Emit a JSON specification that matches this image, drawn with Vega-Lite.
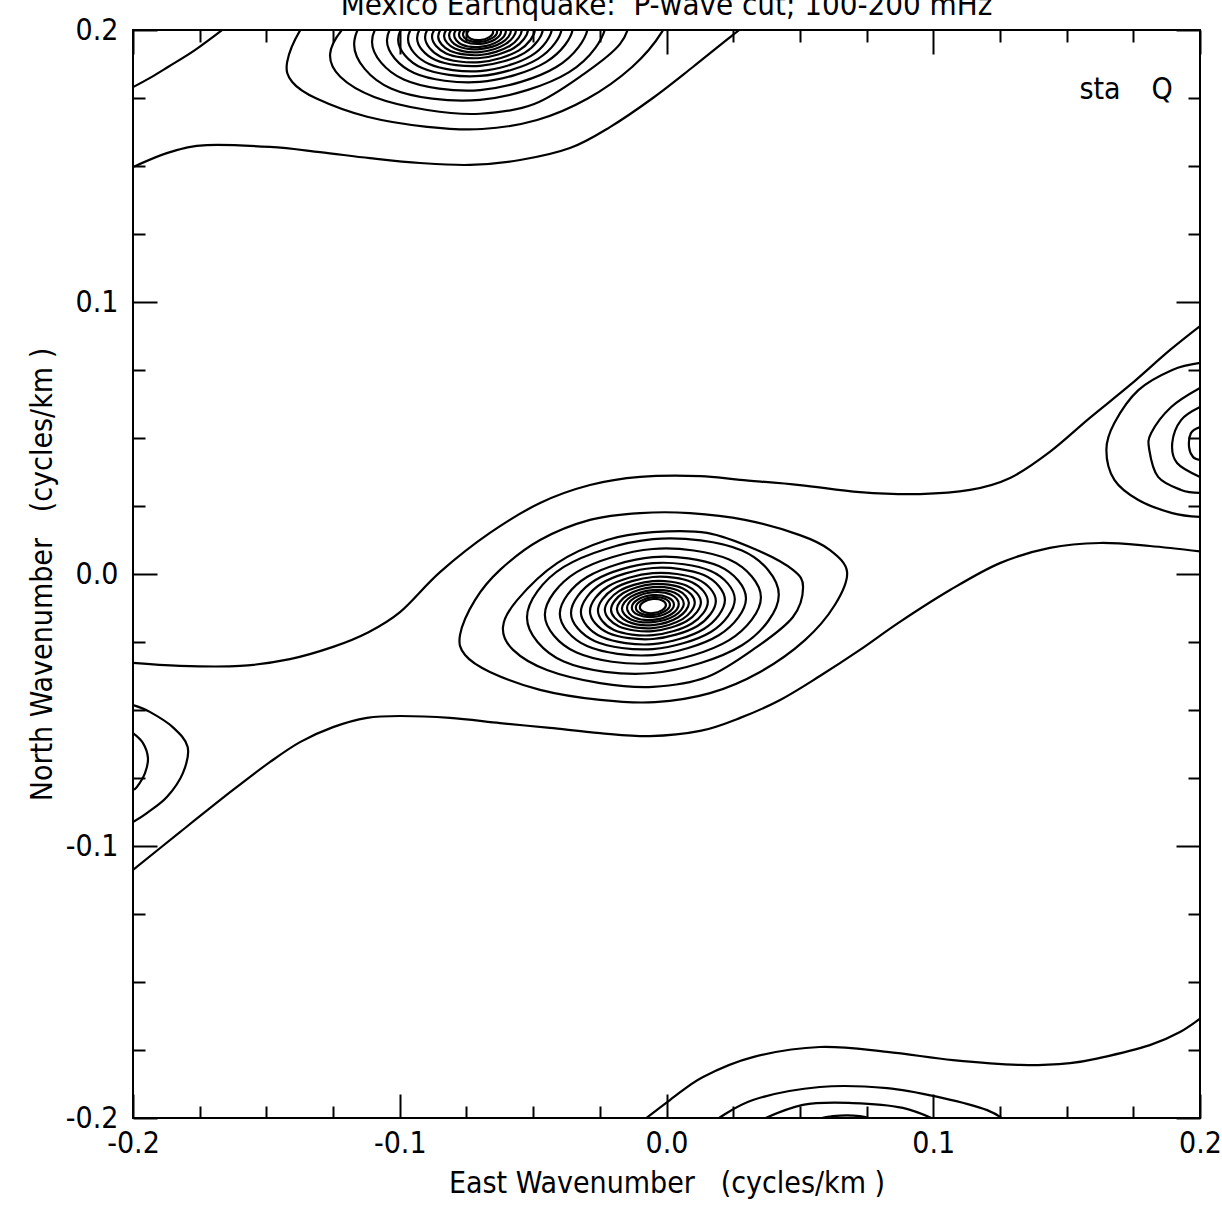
{
  "$schema": "https://vega.github.io/schema/vega-lite/v6.json",
  "width": 1067,
  "height": 1088,
  "autosize": {"type": "none"},
  "padding": {"left": 133, "top": 30, "right": 22, "bottom": 96},
  "background": "white",
  "config": {
    "view": {"stroke": "black", "strokeWidth": 2},
    "font": "Liberation Sans Narrow, DejaVu Sans Condensed, sans-serif"
  },
  "title": {
    "text": "Mexico Earthquake:\u00a0\u00a0P-wave cut; 100-200 mHz",
    "fontSize": 31,
    "fontWeight": "normal",
    "color": "black",
    "anchor": "middle",
    "baseline": "alphabetic",
    "offset": 15,
    "dy": 46
  },
  "datasets": {
    "curves": [
      {"c":"U","i":0,"x":-0.2,"y":-0.0327},{"c":"U","i":1,"x":-0.1824,"y":-0.0338},{"c":"U","i":2,"x":-0.1599,"y":-0.0338},{"c":"U","i":3,"x":-0.1412,"y":-0.0313},{"c":"U","i":4,"x":-0.125,"y":-0.0268},{"c":"U","i":5,"x":-0.1123,"y":-0.0217},{"c":"U","i":6,"x":-0.0999,"y":-0.014},{"c":"U","i":7,"x":-0.0849,"y":0.0007},{"c":"U","i":8,"x":-0.0662,"y":0.0151},{"c":"U","i":9,"x":-0.0474,"y":0.0261},{"c":"U","i":10,"x":-0.0287,"y":0.0327},{"c":"U","i":11,"x":-0.0099,"y":0.0357},{"c":"U","i":12,"x":0.0126,"y":0.036},{"c":"U","i":13,"x":0.0276,"y":0.0346},{"c":"U","i":14,"x":0.05,"y":0.0327},{"c":"U","i":15,"x":0.0725,"y":0.0301},{"c":"U","i":16,"x":0.095,"y":0.0294},{"c":"U","i":17,"x":0.1138,"y":0.0309},{"c":"U","i":18,"x":0.1288,"y":0.0353},{"c":"U","i":19,"x":0.1437,"y":0.0449},{"c":"U","i":20,"x":0.1587,"y":0.0574},{"c":"U","i":21,"x":0.1738,"y":0.0695},{"c":"U","i":22,"x":0.1888,"y":0.0824},{"c":"U","i":23,"x":0.2019,"y":0.0926},
      {"c":"D","i":0,"x":-0.2,"y":-0.1088},{"c":"D","i":1,"x":-0.1824,"y":-0.0949},{"c":"D","i":2,"x":-0.1625,"y":-0.0794},{"c":"D","i":3,"x":-0.1486,"y":-0.0691},{"c":"D","i":4,"x":-0.1374,"y":-0.0618},{"c":"D","i":5,"x":-0.125,"y":-0.0563},{"c":"D","i":6,"x":-0.1123,"y":-0.0529},{"c":"D","i":7,"x":-0.0999,"y":-0.0522},{"c":"D","i":8,"x":-0.0812,"y":-0.0529},{"c":"D","i":9,"x":-0.0624,"y":-0.0548},{"c":"D","i":10,"x":-0.0437,"y":-0.0566},{"c":"D","i":11,"x":-0.0249,"y":-0.0585},{"c":"D","i":12,"x":-0.0062,"y":-0.0596},{"c":"D","i":13,"x":0.0126,"y":-0.0577},{"c":"D","i":14,"x":0.0276,"y":-0.0529},{"c":"D","i":15,"x":0.0426,"y":-0.0463},{"c":"D","i":16,"x":0.0575,"y":-0.0375},{"c":"D","i":17,"x":0.0725,"y":-0.0279},{"c":"D","i":18,"x":0.0875,"y":-0.0176},{"c":"D","i":19,"x":0.1063,"y":-0.0059},{"c":"D","i":20,"x":0.125,"y":0.004},{"c":"D","i":21,"x":0.1437,"y":0.0096},{"c":"D","i":22,"x":0.1625,"y":0.0114},{"c":"D","i":23,"x":0.1812,"y":0.0103},{"c":"D","i":24,"x":0.2019,"y":0.0081},
      {"c":"T0","i":0,"x":-0.2,"y":0.179},{"c":"T0","i":1,"x":-0.1936,"y":0.1824},{"c":"T0","i":2,"x":-0.1869,"y":0.1864},{"c":"T0","i":3,"x":-0.1768,"y":0.1926},{"c":"T0","i":4,"x":-0.1651,"y":0.2011},
      {"c":"T1","i":0,"x":-0.2,"y":0.1496},{"c":"T1","i":1,"x":-0.1861,"y":0.1551},{"c":"T1","i":2,"x":-0.1723,"y":0.1577},{"c":"T1","i":3,"x":-0.1486,"y":0.157},{"c":"T1","i":4,"x":-0.1299,"y":0.1551},{"c":"T1","i":5,"x":-0.1112,"y":0.1529},{"c":"T1","i":6,"x":-0.0924,"y":0.1511},{"c":"T1","i":7,"x":-0.0737,"y":0.1504},{"c":"T1","i":8,"x":-0.0549,"y":0.1522},{"c":"T1","i":9,"x":-0.0362,"y":0.1566},{"c":"T1","i":10,"x":-0.0212,"y":0.1643},{"c":"T1","i":11,"x":-0.0051,"y":0.175},{"c":"T1","i":12,"x":0.0099,"y":0.1864},{"c":"T1","i":13,"x":0.0249,"y":0.1982},{"c":"T1","i":14,"x":0.0294,"y":0.2015},
      {"c":"La","i":0,"x":-0.2,"y":-0.0482},{"c":"La","i":1,"x":-0.1937,"y":-0.0507},{"c":"La","i":2,"x":-0.1851,"y":-0.0563},{"c":"La","i":3,"x":-0.1795,"y":-0.0636},{"c":"La","i":4,"x":-0.1813,"y":-0.0732},{"c":"La","i":5,"x":-0.1873,"y":-0.082},{"c":"La","i":6,"x":-0.1948,"y":-0.0879},{"c":"La","i":7,"x":-0.2,"y":-0.0912},
      {"c":"Lb","i":0,"x":-0.2,"y":-0.0585},{"c":"Lb","i":1,"x":-0.1963,"y":-0.0621},{"c":"Lb","i":2,"x":-0.1944,"y":-0.0676},{"c":"Lb","i":3,"x":-0.1955,"y":-0.0732},{"c":"Lb","i":4,"x":-0.1985,"y":-0.0783},{"c":"Lb","i":5,"x":-0.2,"y":-0.0794},
      {"c":"Ra","i":0,"x":0.2,"y":0.0776},{"c":"Ra","i":1,"x":0.1896,"y":0.075},{"c":"Ra","i":2,"x":0.1769,"y":0.0676},{"c":"Ra","i":3,"x":0.1679,"y":0.0555},{"c":"Ra","i":4,"x":0.1649,"y":0.0456},{"c":"Ra","i":5,"x":0.1679,"y":0.0346},{"c":"Ra","i":6,"x":0.1769,"y":0.0272},{"c":"Ra","i":7,"x":0.1896,"y":0.0224},{"c":"Ra","i":8,"x":0.2,"y":0.021},
      {"c":"Rb","i":0,"x":0.2,"y":0.0684},{"c":"Rb","i":1,"x":0.1892,"y":0.0614},{"c":"Rb","i":2,"x":0.1817,"y":0.0518},{"c":"Rb","i":3,"x":0.181,"y":0.0456},{"c":"Rb","i":4,"x":0.1843,"y":0.0357},{"c":"Rb","i":5,"x":0.1929,"y":0.0309},{"c":"Rb","i":6,"x":0.2,"y":0.0298},
      {"c":"Rc","i":0,"x":0.2,"y":0.0614},{"c":"Rc","i":1,"x":0.1929,"y":0.0566},{"c":"Rc","i":2,"x":0.1896,"y":0.0482},{"c":"Rc","i":3,"x":0.1914,"y":0.0408},{"c":"Rc","i":4,"x":0.2,"y":0.0357},
      {"c":"Rd","i":0,"x":0.2,"y":0.054},{"c":"Rd","i":1,"x":0.1966,"y":0.0518},{"c":"Rd","i":2,"x":0.1959,"y":0.0467},{"c":"Rd","i":3,"x":0.1974,"y":0.043},{"c":"Rd","i":4,"x":0.2,"y":0.0419},
      {"c":"B0","i":0,"x":-0.0099,"y":-0.2018},{"c":"B0","i":1,"x":0.0013,"y":-0.1934},{"c":"B0","i":2,"x":0.0137,"y":-0.1849},{"c":"B0","i":3,"x":0.0324,"y":-0.1776},{"c":"B0","i":4,"x":0.0575,"y":-0.1739},{"c":"B0","i":5,"x":0.0827,"y":-0.1757},{"c":"B0","i":6,"x":0.1074,"y":-0.1787},{"c":"B0","i":7,"x":0.1325,"y":-0.1805},{"c":"B0","i":8,"x":0.1513,"y":-0.1798},{"c":"B0","i":9,"x":0.1625,"y":-0.1779},{"c":"B0","i":10,"x":0.1812,"y":-0.1732},{"c":"B0","i":11,"x":0.1925,"y":-0.1684},{"c":"B0","i":12,"x":0.2019,"y":-0.1621},
      {"c":"B1","i":0,"x":0.017,"y":-0.2018},{"c":"B1","i":1,"x":0.0324,"y":-0.1934},{"c":"B1","i":2,"x":0.0575,"y":-0.1886},{"c":"B1","i":3,"x":0.0827,"y":-0.189},{"c":"B1","i":4,"x":0.1033,"y":-0.1926},{"c":"B1","i":5,"x":0.1202,"y":-0.1971},{"c":"B1","i":6,"x":0.128,"y":-0.2018},
      {"c":"B2","i":0,"x":0.0331,"y":-0.2018},{"c":"B2","i":1,"x":0.0511,"y":-0.1952},{"c":"B2","i":2,"x":0.0699,"y":-0.1945},{"c":"B2","i":3,"x":0.0886,"y":-0.1963},{"c":"B2","i":4,"x":0.1033,"y":-0.2018},
      {"c":"B3","i":0,"x":0.0519,"y":-0.2015},{"c":"B3","i":1,"x":0.0624,"y":-0.1993},{"c":"B3","i":2,"x":0.0725,"y":-0.1993},{"c":"B3","i":3,"x":0.08,"y":-0.2015}
    ],
    "rings": [
      {"c":"c1","i":0,"x":0.0677,"y":0.0007},{"c":"c1","i":1,"x":0.0613,"y":0.0088},{"c":"c1","i":2,"x":0.05,"y":0.0143},{"c":"c1","i":3,"x":0.0294,"y":0.0199},{"c":"c1","i":4,"x":0.0088,"y":0.0224},{"c":"c1","i":5,"x":-0.0099,"y":0.0224},{"c":"c1","i":6,"x":-0.0287,"y":0.0199},{"c":"c1","i":7,"x":-0.0474,"y":0.0125},{"c":"c1","i":8,"x":-0.0624,"y":0.0015},{"c":"c1","i":9,"x":-0.0718,"y":-0.0096},{"c":"c1","i":10,"x":-0.0774,"y":-0.0224},{"c":"c1","i":11,"x":-0.0755,"y":-0.0298},{"c":"c1","i":12,"x":-0.0662,"y":-0.036},{"c":"c1","i":13,"x":-0.0474,"y":-0.0426},{"c":"c1","i":14,"x":-0.0249,"y":-0.0463},{"c":"c1","i":15,"x":-0.0043,"y":-0.0471},{"c":"c1","i":16,"x":0.0163,"y":-0.0438},{"c":"c1","i":17,"x":0.0351,"y":-0.036},{"c":"c1","i":18,"x":0.0519,"y":-0.0243},{"c":"c1","i":19,"x":0.0631,"y":-0.0114},
      {"c":"c2","i":0,"x":0.0512,"y":-0.0048},{"c":"c2","i":1,"x":0.0474,"y":0.0015},{"c":"c2","i":2,"x":0.0339,"y":0.0088},{"c":"c2","i":3,"x":0.0152,"y":0.0151},{"c":"c2","i":4,"x":-0.0051,"y":0.0154},{"c":"c2","i":5,"x":-0.0223,"y":0.0125},{"c":"c2","i":6,"x":-0.041,"y":0.004},{"c":"c2","i":7,"x":-0.056,"y":-0.0096},{"c":"c2","i":8,"x":-0.0613,"y":-0.0195},{"c":"c2","i":9,"x":-0.0575,"y":-0.0279},{"c":"c2","i":10,"x":-0.0448,"y":-0.0353},{"c":"c2","i":11,"x":-0.0249,"y":-0.0401},{"c":"c2","i":12,"x":-0.0051,"y":-0.0415},{"c":"c2","i":13,"x":0.0152,"y":-0.0379},{"c":"c2","i":14,"x":0.0339,"y":-0.0268},{"c":"c2","i":15,"x":0.0474,"y":-0.0158},
      {"c":"c3","i":0,"x":0.0421,"y":-0.0076},{"c":"c3","i":1,"x":0.0283,"y":0.0086},{"c":"c3","i":2,"x":-0.0051,"y":0.0128},{"c":"c3","i":3,"x":-0.0385,"y":0.0026},{"c":"c3","i":4,"x":-0.0523,"y":-0.016},{"c":"c3","i":5,"x":-0.0385,"y":-0.0322},{"c":"c3","i":6,"x":-0.0051,"y":-0.0364},{"c":"c3","i":7,"x":0.0283,"y":-0.0262},
      {"c":"c4","i":0,"x":0.0354,"y":-0.0086},{"c":"c4","i":1,"x":0.0235,"y":0.0053},{"c":"c4","i":2,"x":-0.0051,"y":0.0092},{"c":"c4","i":3,"x":-0.0337,"y":0.0007},{"c":"c4","i":4,"x":-0.0456,"y":-0.015},{"c":"c4","i":5,"x":-0.0337,"y":-0.0289},{"c":"c4","i":6,"x":-0.0051,"y":-0.0328},{"c":"c4","i":7,"x":0.0235,"y":-0.0243},
      {"c":"c5","i":0,"x":0.0298,"y":-0.009},{"c":"c5","i":1,"x":0.0196,"y":0.0029},{"c":"c5","i":2,"x":-0.0051,"y":0.0062},{"c":"c5","i":3,"x":-0.0298,"y":-0.0011},{"c":"c5","i":4,"x":-0.04,"y":-0.0146},{"c":"c5","i":5,"x":-0.0298,"y":-0.0265},{"c":"c5","i":6,"x":-0.0051,"y":-0.0298},{"c":"c5","i":7,"x":0.0196,"y":-0.0225},
      {"c":"c6","i":0,"x":0.0256,"y":-0.0093},{"c":"c6","i":1,"x":0.0166,"y":0.0011},{"c":"c6","i":2,"x":-0.0051,"y":0.004},{"c":"c6","i":3,"x":-0.0268,"y":-0.0023},{"c":"c6","i":4,"x":-0.0358,"y":-0.0143},{"c":"c6","i":5,"x":-0.0268,"y":-0.0247},{"c":"c6","i":6,"x":-0.0051,"y":-0.0276},{"c":"c6","i":7,"x":0.0166,"y":-0.0213},
      {"c":"c7","i":0,"x":0.0219,"y":-0.0096},{"c":"c7","i":1,"x":0.014,"y":-0.0004},{"c":"c7","i":2,"x":-0.0051,"y":0.0022},{"c":"c7","i":3,"x":-0.0242,"y":-0.0034},{"c":"c7","i":4,"x":-0.0321,"y":-0.014},{"c":"c7","i":5,"x":-0.0242,"y":-0.0232},{"c":"c7","i":6,"x":-0.0051,"y":-0.0258},{"c":"c7","i":7,"x":0.014,"y":-0.0202},
      {"c":"c8","i":0,"x":0.0185,"y":-0.0099},{"c":"c8","i":1,"x":0.0116,"y":-0.0019},{"c":"c8","i":2,"x":-0.0051,"y":0.0003},{"c":"c8","i":3,"x":-0.0218,"y":-0.0045},{"c":"c8","i":4,"x":-0.0287,"y":-0.0137},{"c":"c8","i":5,"x":-0.0218,"y":-0.0217},{"c":"c8","i":6,"x":-0.0051,"y":-0.0239},{"c":"c8","i":7,"x":0.0116,"y":-0.0191},
      {"c":"c9","i":0,"x":0.0155,"y":-0.0102},{"c":"c9","i":1,"x":0.0095,"y":-0.003},{"c":"c9","i":2,"x":-0.0051,"y":-0.0011},{"c":"c9","i":3,"x":-0.0197,"y":-0.0054},{"c":"c9","i":4,"x":-0.0257,"y":-0.0134},{"c":"c9","i":5,"x":-0.0197,"y":-0.0206},{"c":"c9","i":6,"x":-0.0051,"y":-0.0225},{"c":"c9","i":7,"x":0.0095,"y":-0.0182},
      {"c":"c10","i":0,"x":0.0129,"y":-0.0104},{"c":"c10","i":1,"x":0.0076,"y":-0.0043},{"c":"c10","i":2,"x":-0.0051,"y":-0.0026},{"c":"c10","i":3,"x":-0.0178,"y":-0.0063},{"c":"c10","i":4,"x":-0.0231,"y":-0.0132},{"c":"c10","i":5,"x":-0.0178,"y":-0.0193},{"c":"c10","i":6,"x":-0.0051,"y":-0.021},{"c":"c10","i":7,"x":0.0076,"y":-0.0173},
      {"c":"c11","i":0,"x":0.0106,"y":-0.0105},{"c":"c11","i":1,"x":0.006,"y":-0.0052},{"c":"c11","i":2,"x":-0.0051,"y":-0.0037},{"c":"c11","i":3,"x":-0.0162,"y":-0.007},{"c":"c11","i":4,"x":-0.0208,"y":-0.0131},{"c":"c11","i":5,"x":-0.0162,"y":-0.0184},{"c":"c11","i":6,"x":-0.0051,"y":-0.0199},{"c":"c11","i":7,"x":0.006,"y":-0.0166},
      {"c":"c12","i":0,"x":0.0084,"y":-0.0107},{"c":"c12","i":1,"x":0.0044,"y":-0.0061},{"c":"c12","i":2,"x":-0.0051,"y":-0.0048},{"c":"c12","i":3,"x":-0.0146,"y":-0.0077},{"c":"c12","i":4,"x":-0.0186,"y":-0.0129},{"c":"c12","i":5,"x":-0.0146,"y":-0.0175},{"c":"c12","i":6,"x":-0.0051,"y":-0.0188},{"c":"c12","i":7,"x":0.0044,"y":-0.0159},
      {"c":"c13","i":0,"x":0.0065,"y":-0.0109},{"c":"c13","i":1,"x":0.0031,"y":-0.0069},{"c":"c13","i":2,"x":-0.0051,"y":-0.0059},{"c":"c13","i":3,"x":-0.0133,"y":-0.0083},{"c":"c13","i":4,"x":-0.0167,"y":-0.0127},{"c":"c13","i":5,"x":-0.0133,"y":-0.0167},{"c":"c13","i":6,"x":-0.0051,"y":-0.0177},{"c":"c13","i":7,"x":0.0031,"y":-0.0153},
      {"c":"c14","i":0,"x":0.0046,"y":-0.011},{"c":"c14","i":1,"x":0.0018,"y":-0.0076},{"c":"c14","i":2,"x":-0.0051,"y":-0.0067},{"c":"c14","i":3,"x":-0.012,"y":-0.0088},{"c":"c14","i":4,"x":-0.0148,"y":-0.0126},{"c":"c14","i":5,"x":-0.012,"y":-0.016},{"c":"c14","i":6,"x":-0.0051,"y":-0.0169},{"c":"c14","i":7,"x":0.0018,"y":-0.0148},
      {"c":"c15","i":0,"x":0.0028,"y":-0.0112},{"c":"c15","i":1,"x":0.0005,"y":-0.0086},{"c":"c15","i":2,"x":-0.0051,"y":-0.0078},{"c":"c15","i":3,"x":-0.0107,"y":-0.0094},{"c":"c15","i":4,"x":-0.013,"y":-0.0124},{"c":"c15","i":5,"x":-0.0107,"y":-0.015},{"c":"c15","i":6,"x":-0.0051,"y":-0.0158},{"c":"c15","i":7,"x":0.0005,"y":-0.0142},
      {"c":"c16","i":0,"x":0.0013,"y":-0.0113},{"c":"c16","i":1,"x":-0.0006,"y":-0.0091},{"c":"c16","i":2,"x":-0.0051,"y":-0.0085},{"c":"c16","i":3,"x":-0.0096,"y":-0.0099},{"c":"c16","i":4,"x":-0.0115,"y":-0.0123},{"c":"c16","i":5,"x":-0.0096,"y":-0.0145},{"c":"c16","i":6,"x":-0.0051,"y":-0.0151},{"c":"c16","i":7,"x":-0.0006,"y":-0.0137},
      {"c":"c17","i":0,"x":-0.0002,"y":-0.0114},{"c":"c17","i":1,"x":-0.0016,"y":-0.0097},{"c":"c17","i":2,"x":-0.0051,"y":-0.0092},{"c":"c17","i":3,"x":-0.0086,"y":-0.0103},{"c":"c17","i":4,"x":-0.01,"y":-0.0122},{"c":"c17","i":5,"x":-0.0086,"y":-0.0139},{"c":"c17","i":6,"x":-0.0051,"y":-0.0144},{"c":"c17","i":7,"x":-0.0016,"y":-0.0133},
      {"c":"t1","i":0,"x":0.0029,"y":0.2114},{"c":"t1","i":1,"x":-0.0035,"y":0.2195},{"c":"t1","i":2,"x":-0.0148,"y":0.225},{"c":"t1","i":3,"x":-0.0354,"y":0.2306},{"c":"t1","i":4,"x":-0.056,"y":0.2331},{"c":"t1","i":5,"x":-0.0747,"y":0.2331},{"c":"t1","i":6,"x":-0.0935,"y":0.2306},{"c":"t1","i":7,"x":-0.1122,"y":0.2232},{"c":"t1","i":8,"x":-0.1272,"y":0.2122},{"c":"t1","i":9,"x":-0.1366,"y":0.2011},{"c":"t1","i":10,"x":-0.1422,"y":0.1883},{"c":"t1","i":11,"x":-0.1403,"y":0.1809},{"c":"t1","i":12,"x":-0.131,"y":0.1747},{"c":"t1","i":13,"x":-0.1122,"y":0.1681},{"c":"t1","i":14,"x":-0.0897,"y":0.1644},{"c":"t1","i":15,"x":-0.0691,"y":0.1636},{"c":"t1","i":16,"x":-0.0485,"y":0.1669},{"c":"t1","i":17,"x":-0.0297,"y":0.1747},{"c":"t1","i":18,"x":-0.0129,"y":0.1864},{"c":"t1","i":19,"x":-0.0017,"y":0.1993},
      {"c":"t2","i":0,"x":-0.0136,"y":0.2059},{"c":"t2","i":1,"x":-0.0174,"y":0.2122},{"c":"t2","i":2,"x":-0.0309,"y":0.2195},{"c":"t2","i":3,"x":-0.0496,"y":0.2258},{"c":"t2","i":4,"x":-0.0699,"y":0.2261},{"c":"t2","i":5,"x":-0.0871,"y":0.2232},{"c":"t2","i":6,"x":-0.1058,"y":0.2147},{"c":"t2","i":7,"x":-0.1208,"y":0.2011},{"c":"t2","i":8,"x":-0.1261,"y":0.1912},{"c":"t2","i":9,"x":-0.1223,"y":0.1828},{"c":"t2","i":10,"x":-0.1096,"y":0.1754},{"c":"t2","i":11,"x":-0.0897,"y":0.1706},{"c":"t2","i":12,"x":-0.0699,"y":0.1692},{"c":"t2","i":13,"x":-0.0496,"y":0.1728},{"c":"t2","i":14,"x":-0.0309,"y":0.1839},{"c":"t2","i":15,"x":-0.0174,"y":0.1949},
      {"c":"t3","i":0,"x":-0.0227,"y":0.2031},{"c":"t3","i":1,"x":-0.0365,"y":0.2193},{"c":"t3","i":2,"x":-0.0699,"y":0.2235},{"c":"t3","i":3,"x":-0.1033,"y":0.2133},{"c":"t3","i":4,"x":-0.1171,"y":0.1947},{"c":"t3","i":5,"x":-0.1033,"y":0.1785},{"c":"t3","i":6,"x":-0.0699,"y":0.1743},{"c":"t3","i":7,"x":-0.0365,"y":0.1845},
      {"c":"t4","i":0,"x":-0.0294,"y":0.2021},{"c":"t4","i":1,"x":-0.0413,"y":0.216},{"c":"t4","i":2,"x":-0.0699,"y":0.2199},{"c":"t4","i":3,"x":-0.0985,"y":0.2114},{"c":"t4","i":4,"x":-0.1104,"y":0.1957},{"c":"t4","i":5,"x":-0.0985,"y":0.1818},{"c":"t4","i":6,"x":-0.0699,"y":0.1779},{"c":"t4","i":7,"x":-0.0413,"y":0.1864},
      {"c":"t5","i":0,"x":-0.035,"y":0.2017},{"c":"t5","i":1,"x":-0.0452,"y":0.2136},{"c":"t5","i":2,"x":-0.0699,"y":0.2169},{"c":"t5","i":3,"x":-0.0946,"y":0.2096},{"c":"t5","i":4,"x":-0.1048,"y":0.1961},{"c":"t5","i":5,"x":-0.0946,"y":0.1842},{"c":"t5","i":6,"x":-0.0699,"y":0.1809},{"c":"t5","i":7,"x":-0.0452,"y":0.1882},
      {"c":"t6","i":0,"x":-0.0392,"y":0.2014},{"c":"t6","i":1,"x":-0.0482,"y":0.2118},{"c":"t6","i":2,"x":-0.0699,"y":0.2147},{"c":"t6","i":3,"x":-0.0916,"y":0.2084},{"c":"t6","i":4,"x":-0.1006,"y":0.1964},{"c":"t6","i":5,"x":-0.0916,"y":0.186},{"c":"t6","i":6,"x":-0.0699,"y":0.1831},{"c":"t6","i":7,"x":-0.0482,"y":0.1894},
      {"c":"t7","i":0,"x":-0.0429,"y":0.2011},{"c":"t7","i":1,"x":-0.0508,"y":0.2103},{"c":"t7","i":2,"x":-0.0699,"y":0.2129},{"c":"t7","i":3,"x":-0.089,"y":0.2073},{"c":"t7","i":4,"x":-0.0969,"y":0.1967},{"c":"t7","i":5,"x":-0.089,"y":0.1875},{"c":"t7","i":6,"x":-0.0699,"y":0.1849},{"c":"t7","i":7,"x":-0.0508,"y":0.1905},
      {"c":"t8","i":0,"x":-0.0463,"y":0.2008},{"c":"t8","i":1,"x":-0.0532,"y":0.2088},{"c":"t8","i":2,"x":-0.0699,"y":0.211},{"c":"t8","i":3,"x":-0.0866,"y":0.2062},{"c":"t8","i":4,"x":-0.0935,"y":0.197},{"c":"t8","i":5,"x":-0.0866,"y":0.189},{"c":"t8","i":6,"x":-0.0699,"y":0.1868},{"c":"t8","i":7,"x":-0.0532,"y":0.1916},
      {"c":"t9","i":0,"x":-0.0493,"y":0.2005},{"c":"t9","i":1,"x":-0.0553,"y":0.2077},{"c":"t9","i":2,"x":-0.0699,"y":0.2096},{"c":"t9","i":3,"x":-0.0845,"y":0.2053},{"c":"t9","i":4,"x":-0.0905,"y":0.1973},{"c":"t9","i":5,"x":-0.0845,"y":0.1901},{"c":"t9","i":6,"x":-0.0699,"y":0.1882},{"c":"t9","i":7,"x":-0.0553,"y":0.1925},
      {"c":"t10","i":0,"x":-0.0519,"y":0.2003},{"c":"t10","i":1,"x":-0.0572,"y":0.2064},{"c":"t10","i":2,"x":-0.0699,"y":0.2081},{"c":"t10","i":3,"x":-0.0826,"y":0.2044},{"c":"t10","i":4,"x":-0.0879,"y":0.1975},{"c":"t10","i":5,"x":-0.0826,"y":0.1914},{"c":"t10","i":6,"x":-0.0699,"y":0.1897},{"c":"t10","i":7,"x":-0.0572,"y":0.1934},
      {"c":"t11","i":0,"x":-0.0542,"y":0.2002},{"c":"t11","i":1,"x":-0.0588,"y":0.2055},{"c":"t11","i":2,"x":-0.0699,"y":0.207},{"c":"t11","i":3,"x":-0.081,"y":0.2037},{"c":"t11","i":4,"x":-0.0856,"y":0.1976},{"c":"t11","i":5,"x":-0.081,"y":0.1923},{"c":"t11","i":6,"x":-0.0699,"y":0.1908},{"c":"t11","i":7,"x":-0.0588,"y":0.1941},
      {"c":"t12","i":0,"x":-0.0564,"y":0.2},{"c":"t12","i":1,"x":-0.0604,"y":0.2046},{"c":"t12","i":2,"x":-0.0699,"y":0.2059},{"c":"t12","i":3,"x":-0.0794,"y":0.203},{"c":"t12","i":4,"x":-0.0834,"y":0.1978},{"c":"t12","i":5,"x":-0.0794,"y":0.1932},{"c":"t12","i":6,"x":-0.0699,"y":0.1919},{"c":"t12","i":7,"x":-0.0604,"y":0.1948},
      {"c":"t13","i":0,"x":-0.0583,"y":0.1998},{"c":"t13","i":1,"x":-0.0617,"y":0.2038},{"c":"t13","i":2,"x":-0.0699,"y":0.2048},{"c":"t13","i":3,"x":-0.0781,"y":0.2024},{"c":"t13","i":4,"x":-0.0815,"y":0.198},{"c":"t13","i":5,"x":-0.0781,"y":0.194},{"c":"t13","i":6,"x":-0.0699,"y":0.193},{"c":"t13","i":7,"x":-0.0617,"y":0.1954},
      {"c":"t14","i":0,"x":-0.0602,"y":0.1997},{"c":"t14","i":1,"x":-0.063,"y":0.2031},{"c":"t14","i":2,"x":-0.0699,"y":0.204},{"c":"t14","i":3,"x":-0.0768,"y":0.2019},{"c":"t14","i":4,"x":-0.0796,"y":0.1981},{"c":"t14","i":5,"x":-0.0768,"y":0.1947},{"c":"t14","i":6,"x":-0.0699,"y":0.1938},{"c":"t14","i":7,"x":-0.063,"y":0.1959},
      {"c":"t15","i":0,"x":-0.062,"y":0.1995},{"c":"t15","i":1,"x":-0.0643,"y":0.2021},{"c":"t15","i":2,"x":-0.0699,"y":0.2029},{"c":"t15","i":3,"x":-0.0755,"y":0.2013},{"c":"t15","i":4,"x":-0.0778,"y":0.1983},{"c":"t15","i":5,"x":-0.0755,"y":0.1957},{"c":"t15","i":6,"x":-0.0699,"y":0.1949},{"c":"t15","i":7,"x":-0.0643,"y":0.1965},
      {"c":"t16","i":0,"x":-0.0635,"y":0.1994},{"c":"t16","i":1,"x":-0.0654,"y":0.2016},{"c":"t16","i":2,"x":-0.0699,"y":0.2022},{"c":"t16","i":3,"x":-0.0744,"y":0.2008},{"c":"t16","i":4,"x":-0.0763,"y":0.1984},{"c":"t16","i":5,"x":-0.0744,"y":0.1962},{"c":"t16","i":6,"x":-0.0699,"y":0.1956},{"c":"t16","i":7,"x":-0.0654,"y":0.197},
      {"c":"t17","i":0,"x":-0.065,"y":0.1993},{"c":"t17","i":1,"x":-0.0664,"y":0.201},{"c":"t17","i":2,"x":-0.0699,"y":0.2015},{"c":"t17","i":3,"x":-0.0734,"y":0.2004},{"c":"t17","i":4,"x":-0.0748,"y":0.1985},{"c":"t17","i":5,"x":-0.0734,"y":0.1968},{"c":"t17","i":6,"x":-0.0699,"y":0.1963},{"c":"t17","i":7,"x":-0.0664,"y":0.1974}
    ],
    "notes": [
      {"t": "sta", "x": 0.1625, "y": 0.178},
      {"t": "Q", "x": 0.1858, "y": 0.178}
    ]
  },
  "layer": [
    {
      "data": {"name": "curves"},
      "mark": {"type": "line", "interpolate": "cardinal", "clip": true, "color": "black", "strokeWidth": 2.2},
      "encoding": {
        "x": {"field": "x", "type": "quantitative", "scale": {"domain": [-0.2, 0.2], "nice": false, "zero": false},
          "axis": {"orient": "bottom", "values": [-0.2, -0.1, 0, 0.1, 0.2], "labelExpr": "replace(format(datum.value, '.1f'), '\u2212', '-')", "tickSize": -24, "tickWidth": 2, "tickColor": "black", "domain": false, "grid": false, "labelPadding": 34, "labelFontSize": 30, "labelColor": "black", "labelFlush": false, "labelOverlap": false, "title": "East Wavenumber\u00a0\u00a0\u00a0(cycles/km\u00a0)", "titleFontSize": 30, "titleFontWeight": "normal", "titleColor": "black", "titlePadding": 10}},
        "y": {"field": "y", "type": "quantitative", "scale": {"domain": [-0.2, 0.2], "nice": false, "zero": false},
          "axis": {"orient": "left", "values": [-0.2, -0.1, 0, 0.1, 0.2], "labelExpr": "replace(format(datum.value, '.1f'), '\u2212', '-')", "tickSize": -24, "tickWidth": 2, "tickColor": "black", "domain": false, "grid": false, "labelPadding": 39, "labelFontSize": 30, "labelColor": "black", "labelFlush": false, "labelOverlap": false, "title": "North Wavenumber\u00a0\u00a0\u00a0(cycles/km\u00a0)", "titleFontSize": 30, "titleFontWeight": "normal", "titleColor": "black", "titlePadding": 8}},
        "detail": {"field": "c"},
        "order": {"field": "i", "type": "quantitative"}
      }
    },
    {
      "data": {"name": "rings"},
      "mark": {"type": "line", "interpolate": "cardinal-closed", "clip": true, "color": "black", "strokeWidth": 2.2},
      "encoding": {
        "x": {"field": "x", "type": "quantitative", "scale": {"domain": [-0.2, 0.2], "nice": false, "zero": false}, "axis": null},
        "y": {"field": "y", "type": "quantitative", "scale": {"domain": [-0.2, 0.2], "nice": false, "zero": false}, "axis": null},
        "detail": {"field": "c"},
        "order": {"field": "i", "type": "quantitative"}
      }
    },
    {
      "data": {"name": "notes"},
      "mark": {"type": "point", "opacity": 0, "clip": true},
      "encoding": {
        "x": {"field": "x", "type": "quantitative", "scale": {"domain": [-0.2, 0.2], "nice": false, "zero": false},
          "axis": {"orient": "bottom", "values": [-0.175, -0.15, -0.125, -0.075, -0.05, -0.025, 0.025, 0.05, 0.075, 0.125, 0.15, 0.175], "tickSize": -12, "tickWidth": 2, "tickColor": "black", "labels": false, "domain": false, "grid": false, "title": null}},
        "y": {"field": "y", "type": "quantitative", "scale": {"domain": [-0.2, 0.2], "nice": false, "zero": false},
          "axis": {"orient": "left", "values": [-0.175, -0.15, -0.125, -0.075, -0.05, -0.025, 0.025, 0.05, 0.075, 0.125, 0.15, 0.175], "tickSize": -12, "tickWidth": 2, "tickColor": "black", "labels": false, "domain": false, "grid": false, "title": null}}
      }
    },
    {
      "data": {"name": "notes"},
      "mark": {"type": "point", "opacity": 0, "clip": true},
      "encoding": {
        "x": {"field": "x", "type": "quantitative", "scale": {"domain": [-0.2, 0.2], "nice": false, "zero": false},
          "axis": {"orient": "top", "values": [-0.2, -0.1, 0, 0.1, 0.2], "tickSize": -24, "tickWidth": 2, "tickColor": "black", "labels": false, "domain": false, "grid": false, "title": null}},
        "y": {"field": "y", "type": "quantitative", "scale": {"domain": [-0.2, 0.2], "nice": false, "zero": false},
          "axis": {"orient": "right", "values": [-0.2, -0.1, 0, 0.1, 0.2], "tickSize": -24, "tickWidth": 2, "tickColor": "black", "labels": false, "domain": false, "grid": false, "title": null}}
      }
    },
    {
      "data": {"name": "notes"},
      "mark": {"type": "point", "opacity": 0, "clip": true},
      "encoding": {
        "x": {"field": "x", "type": "quantitative", "scale": {"domain": [-0.2, 0.2], "nice": false, "zero": false},
          "axis": {"orient": "top", "values": [-0.175, -0.15, -0.125, -0.075, -0.05, -0.025, 0.025, 0.05, 0.075, 0.125, 0.15, 0.175], "tickSize": -12, "tickWidth": 2, "tickColor": "black", "labels": false, "domain": false, "grid": false, "title": null}},
        "y": {"field": "y", "type": "quantitative", "scale": {"domain": [-0.2, 0.2], "nice": false, "zero": false},
          "axis": {"orient": "right", "values": [-0.175, -0.15, -0.125, -0.075, -0.05, -0.025, 0.025, 0.05, 0.075, 0.125, 0.15, 0.175], "tickSize": -12, "tickWidth": 2, "tickColor": "black", "labels": false, "domain": false, "grid": false, "title": null}}
      }
    },
    {
      "data": {"name": "notes"},
      "mark": {"type": "text", "fontSize": 30, "color": "black", "baseline": "middle", "align": "center"},
      "encoding": {
        "x": {"field": "x", "type": "quantitative", "scale": {"domain": [-0.2, 0.2], "nice": false, "zero": false}, "axis": null},
        "y": {"field": "y", "type": "quantitative", "scale": {"domain": [-0.2, 0.2], "nice": false, "zero": false}, "axis": null},
        "text": {"field": "t"}
      }
    }
  ],
  "resolve": {"axis": {"x": "independent", "y": "independent"}}
}
